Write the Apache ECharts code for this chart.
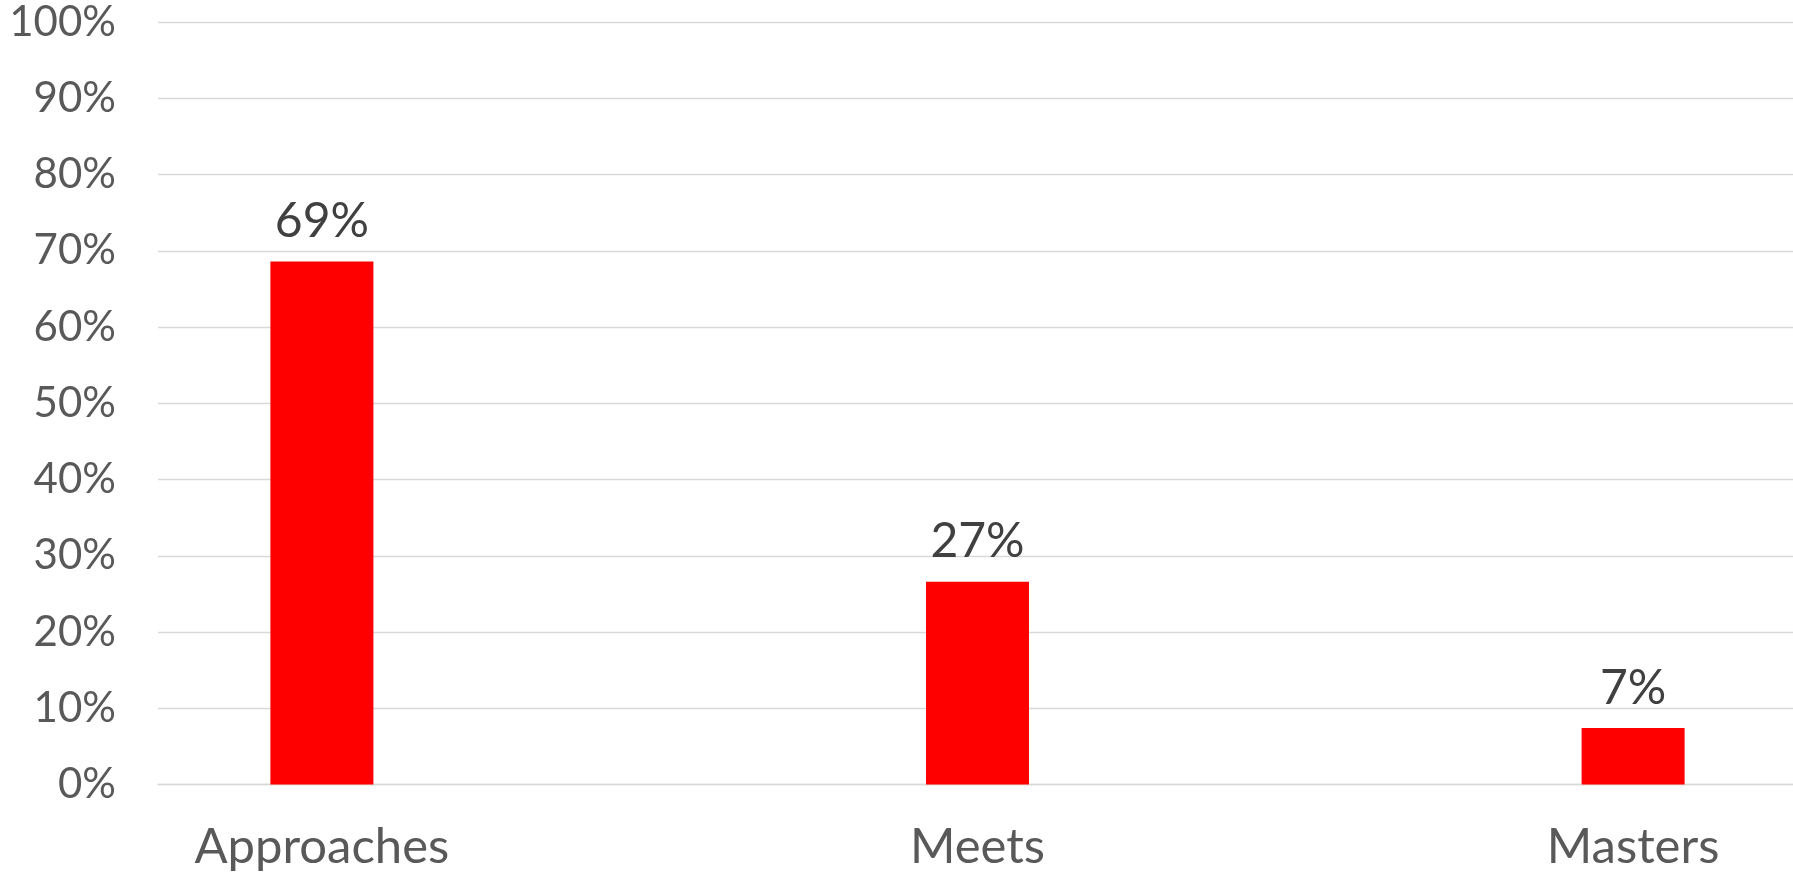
<!DOCTYPE html>
<html>
<head>
<meta charset="utf-8">
<script src="https://cdn.jsdelivr.net/npm/echarts@6/dist/echarts.min.js"></script>
<style>html,body{margin:0;padding:0;background:#fff;overflow:hidden;width:1793px;height:883px;}#c{width:1797px;height:883px;}</style>
</head>
<body>
<div id="c"></div>
<script>
// Categories (blank slots keep the original spacing between the three groups)
const categories = ['Approaches', '', 'Meets', '', 'Masters'];
const values = [0.686, null, 0.266, null, 0.074];
const yTicks = [0, 0.1, 0.2, 0.3, 0.4, 0.5, 0.6, 0.7, 0.8, 0.9, 1.0];

const FONT = 'Lato';
const chart = echarts.init(document.getElementById('c'), null, {renderer: 'canvas'});
chart.setOption({
  animation: false,
  backgroundColor: '#ffffff',
  grid: {left: 158, right: 0, top: 22, bottom: 98.5, containLabel: false},
  xAxis: {
    type: 'category',
    data: categories,
    axisLine: {show: true, lineStyle: {color: '#d9d9d9', width: 1.3}},
    axisTick: {show: false},
    axisLabel: {color: '#595959', fontSize: 49, fontFamily: FONT, margin: 38, interval: 0}
  },
  yAxis: {
    type: 'value',
    min: 0, max: 1, interval: 0.1,
    axisLine: {show: false},
    axisTick: {show: false},
    splitLine: {show: true, lineStyle: {color: '#d9d9d9', width: 1.3}},
    axisLabel: {
      color: '#595959', fontSize: 42, fontFamily: FONT, margin: 42,
      formatter: v => Math.round(v * 100) + '%'
    }
  },
  series: [{
    type: 'bar',
    data: values,
    barWidth: 103,
    itemStyle: {color: '#ff0000'},
    label: {
      show: true, position: 'top', distance: 16,
      color: '#404040', fontSize: 48, fontFamily: FONT,
      formatter: p => Math.round(p.value * 100) + '%'
    }
  }]
});
</script>
</body>
</html>
